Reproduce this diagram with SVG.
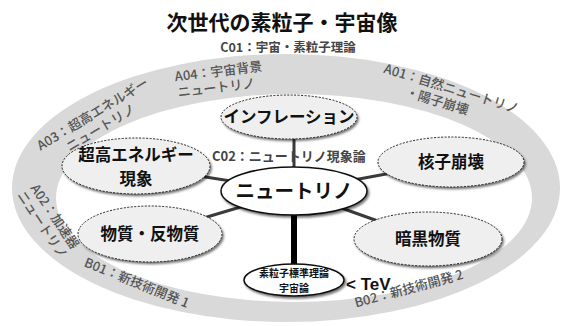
<svg xmlns="http://www.w3.org/2000/svg" width="561" height="326" viewBox="0 0 561 326">
<defs>
<filter id="sh" x="-20%" y="-20%" width="140%" height="150%"><feDropShadow dx="1.5" dy="2" stdDeviation="1" flood-color="#000" flood-opacity="0.55"/></filter>
<style>
.ring{fill:#d9d9d9;fill-rule:evenodd}
.rl{font-family:"Noto Sans CJK JP","Noto Sans",sans-serif;font-size:13px;font-weight:500;fill:#555;text-anchor:middle}
.dn{fill:#efefef;stroke:#222;stroke-width:1;stroke-dasharray:2 1.5;filter:url(#sh)}
.sn{fill:#fff;stroke:#111;stroke-width:1.5;filter:url(#sh)}
.nt{font-family:"Noto Sans CJK JP","Noto Sans",sans-serif;font-weight:bold;fill:#111;text-anchor:middle}
.n16{font-size:16.5px}
.n19{font-size:19.5px}
.n10{font-size:10px}
.cn{stroke:#3a3a3a;stroke-width:3;fill:none}
</style>
</defs>
<rect width="561" height="326" fill="#fff"/>
<path class="ring" d="M12,188 a274,134 0 1,0 548,0 a274,134 0 1,0 -548,0 Z M56,198 a238,104 0 1,0 476,0 a238,104 0 1,0 -476,0 Z"/>
<text x="282" y="30" font-family="'Noto Sans CJK JP',sans-serif" font-weight="bold" font-size="21" fill="#111" text-anchor="middle">次世代の素粒子・宇宙像</text>
<text x="288" y="52" font-family="'Noto Sans CJK JP',sans-serif" font-weight="bold" font-size="12.5" fill="#444" text-anchor="middle">C01：宇宙・素粒子理論</text>
<g id="ring-labels">
<g transform="translate(219,76) rotate(-7)"><text class="rl" x="0" y="0">A04：宇宙背景</text><text class="rl" x="-4" y="16">ニュートリノ</text></g>
<g transform="translate(450,93) rotate(17)"><text class="rl" x="0" y="0">A01：自然ニュートリノ</text><text class="rl" x="-10" y="16">・陽子崩壊</text></g>
<g transform="translate(95,118) rotate(-31)"><text class="rl" x="0" y="0">A03：超高エネルギー</text><text class="rl" x="0" y="16">ニュートリノ</text></g>
<g transform="translate(51,219) rotate(56)"><text class="rl" x="0" y="0">A02：加速器</text><text class="rl" x="0" y="15">ニュートリノ</text></g>
<g transform="translate(135,287) rotate(22)"><text class="rl" x="0" y="0">B01：新技術開発 1</text></g>
<g transform="translate(410,293) rotate(-15)"><text class="rl" x="0" y="0">B02：新技術開発 2</text></g>
</g>
<g id="connectors">
<line class="cn" x1="294" y1="191" x2="136" y2="166"/>
<line class="cn" x1="294" y1="191" x2="451" y2="162"/>
<line class="cn" x1="294" y1="191" x2="150" y2="234"/>
<line class="cn" x1="294" y1="191" x2="428" y2="239"/>
<line class="cn" x1="294" y1="191" x2="294" y2="117"/>
<line x1="294" y1="191" x2="294" y2="270" stroke="#000" stroke-width="6"/>
</g>
<text x="212" y="161" font-family="'Noto Sans CJK JP',sans-serif" font-weight="bold" font-size="13" fill="#444">C02：ニュートリノ現象論</text>
<g id="inflation"><ellipse class="dn" cx="289" cy="117" rx="68" ry="22"/><text class="nt n16" x="289" y="123">インフレーション</text></g>
<g id="uhe"><ellipse class="dn" cx="136" cy="166" rx="74" ry="28"/><text class="nt n16" x="136" y="161">超高エネルギー</text><text class="nt n16" x="136" y="185">現象</text></g>
<g id="nucleon"><ellipse class="dn" cx="451" cy="162" rx="73" ry="25"/><text class="nt n16" x="451" y="168">核子崩壊</text></g>
<g id="matter"><ellipse class="dn" cx="150" cy="234" rx="72" ry="28"/><text class="nt n16" x="150" y="240">物質・反物質</text></g>
<g id="darkmatter"><ellipse class="dn" cx="428" cy="239" rx="74" ry="27"/><text class="nt n16" x="428" y="245">暗黒物質</text></g>
<g id="neutrino"><ellipse class="sn" cx="294" cy="191" rx="73" ry="24"/><text class="nt n19" x="294" y="198">ニュートリノ</text></g>
<g id="sm"><ellipse class="sn" cx="294" cy="280" rx="50" ry="16"/><text class="nt n10" x="294" y="277">素粒子標準理論</text><text class="nt n10" x="294" y="292">宇宙論</text></g>
<text x="346" y="290" font-family="'Liberation Sans',Arial,sans-serif" font-weight="bold" font-size="17" fill="#111">&lt; TeV</text>
</svg>
